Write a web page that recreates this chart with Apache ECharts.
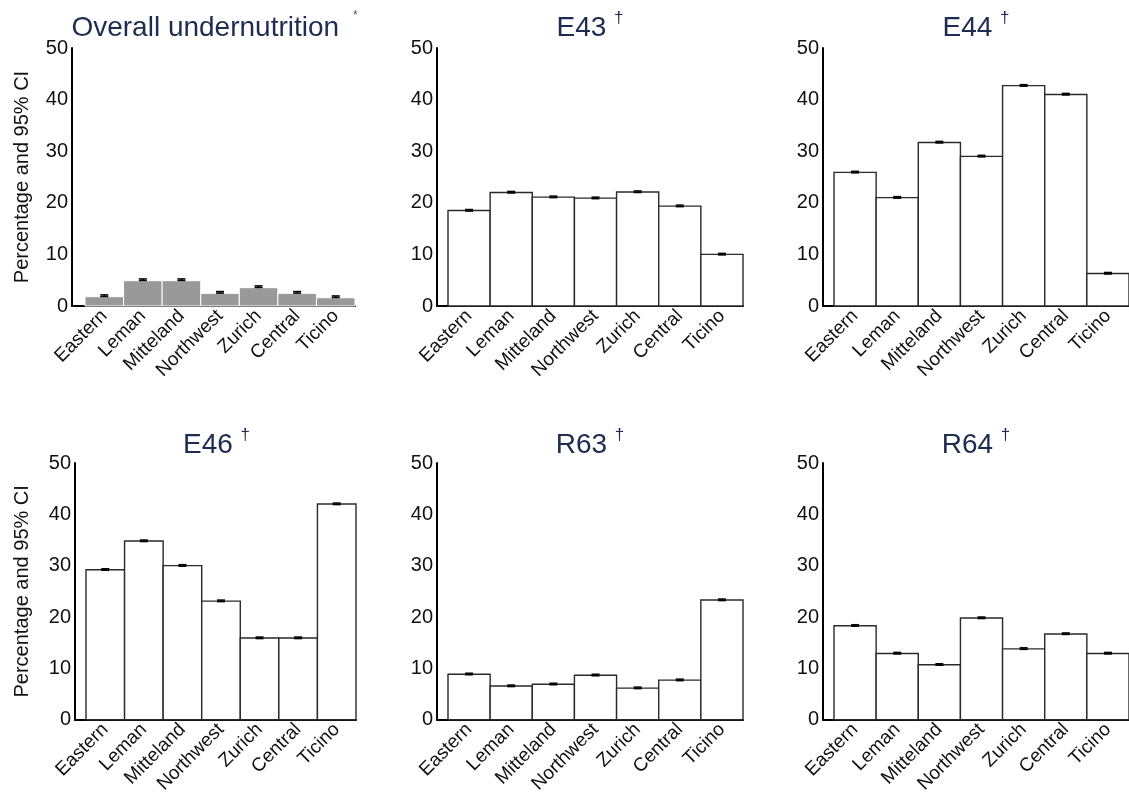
<!DOCTYPE html>
<html>
<head>
<meta charset="utf-8">
<script src="https://cdn.jsdelivr.net/npm/echarts@6/dist/echarts.min.js"></script>
<style>
html,body{margin:0;padding:0;background:#fff;}
#chart{width:1129px;height:796px;}
</style>
</head>
<body>
<div id="chart"></div>
<script>
// ---- data ----
const regions = ['Eastern', 'Leman', 'Mitteland', 'Northwest', 'Zurich', 'Central', 'Ticino'];

const panelTitles = ['Overall undernutrition', 'E43', 'E44', 'E46', 'R63', 'R64'];
const panelMarks = ['*', '†', '†', '†', '†', '†'];

const overallPct  = [1.8, 4.9, 4.9, 2.45, 3.55, 2.45, 1.6];
const overallLow  = [1.85, 4.95, 4.95, 2.5, 3.6, 2.5, 1.65];
const overallHigh = [2.15, 5.25, 5.25, 2.8, 3.9, 2.8, 1.95];

const e43Pct  = [18.5, 22.0, 21.1, 20.9, 22.1, 19.35, 10.0];
const e43Low  = [18.4, 21.9, 21.0, 20.8, 22.0, 19.25, 9.9];
const e43High = [18.7, 22.2, 21.3, 21.1, 22.3, 19.55, 10.2];

const e44Pct  = [25.9, 21.0, 31.7, 29.0, 42.7, 41.0, 6.3];
const e44Low  = [25.8, 20.9, 31.6, 28.9, 42.6, 40.9, 6.2];
const e44High = [26.1, 21.2, 31.9, 29.2, 42.9, 41.2, 6.5];

const e46Pct  = [29.2, 34.8, 30.0, 23.1, 15.9, 15.9, 42.0];
const e46Low  = [29.1, 34.7, 29.9, 23.0, 15.8, 15.8, 41.9];
const e46High = [29.4, 35.0, 30.2, 23.3, 16.1, 16.1, 42.2];

const r63Pct  = [8.85, 6.55, 6.9, 8.65, 6.15, 7.7, 23.3];
const r63Low  = [8.75, 6.45, 6.8, 8.55, 6.05, 7.6, 23.2];
const r63High = [9.05, 6.75, 7.1, 8.85, 6.35, 7.9, 23.5];

const r64Pct  = [18.3, 12.9, 10.7, 19.8, 13.8, 16.7, 12.9];
const r64Low  = [18.2, 12.8, 10.6, 19.7, 13.7, 16.6, 12.8];
const r64High = [18.5, 13.1, 10.9, 20.0, 14.0, 16.9, 13.1];

const yAxisName = 'Percentage and 95% CI';

// ---- layout ----
const pct = [overallPct, e43Pct, e44Pct, e46Pct, r63Pct, r64Pct];
const low = [overallLow, e43Low, e44Low, e46Low, r63Low, r64Low];
const high = [overallHigh, e43High, e44High, e46High, r63High, r64High];

const layout = [
  {left: 72,  width: 283, top: 48,  height: 258, xMin: -0.837, nameGap: 40, titleTop: 5},
  {left: 437, width: 306, top: 48,  height: 258, xMin: -0.761, titleTop: 5},
  {left: 823, width: 306, top: 48,  height: 258, xMin: -0.761, titleTop: 5},
  {left: 75,  width: 281, top: 463, height: 260, xMin: -0.785, nameGap: 43, titleTop: 422},
  {left: 437, width: 306, top: 463, height: 260, xMin: -0.761, titleTop: 422},
  {left: 823, width: 306, top: 463, height: 260, xMin: -0.761, titleTop: 422}
];

const FONT = "'Liberation Sans', Arial, sans-serif";
const TITLE_COLOR = '#1d2c50';

const grids = [], xAxes = [], yAxes = [], series = [], titles = [];

layout.forEach((L, k) => {
  grids.push({left: L.left, top: L.top, width: L.width, height: L.height, containLabel: false});
  xAxes.push({
    type: 'value', gridIndex: k, min: L.xMin, max: 6.5,
    axisLine: {show: true, onZero: false, lineStyle: {color: '#000', width: 2}},
    axisTick: {show: false},
    splitLine: {show: false},
    axisLabel: {
      customValues: regions.map((r, i) => i),
      rotate: 45, margin: 7, fontSize: 19, color: '#111', fontFamily: FONT,
      formatter: v => regions[Math.round(v)] || ''
    }
  });
  yAxes.push({
    type: 'value', gridIndex: k, min: 0, max: 50, interval: 10,
    name: L.nameGap ? yAxisName : '',
    nameLocation: 'middle', nameGap: L.nameGap || 0,
    nameTextStyle: {fontSize: 20, color: '#111', fontFamily: FONT},
    axisLine: {show: true, onZero: false, lineStyle: {color: '#000', width: 2}},
    axisTick: {show: false},
    splitLine: {show: false},
    axisLabel: {fontSize: 20, color: '#111', margin: 4, fontFamily: FONT}
  });
  const isGray = k === 0;
  series.push({
    type: 'custom', xAxisIndex: k, yAxisIndex: k, z: 2,
    data: pct[k].map((v, i) => [i, v]),
    renderItem: (params, api) => {
      const i = api.value(0), v = api.value(1);
      const p0 = api.coord([i - 0.5, v]);
      const p1 = api.coord([i + 0.5, 0]);
      return {
        type: 'rect',
        shape: {x: p0[0], y: p0[1], width: p1[0] - p0[0], height: p1[1] - p0[1]},
        style: isGray ? {fill: '#999999', stroke: '#ffffff', lineWidth: 1}
                      : {fill: '#ffffff', stroke: '#2a2a2a', lineWidth: 1.4}
      };
    }
  });
  series.push({
    type: 'custom', xAxisIndex: k, yAxisIndex: k, z: 3,
    data: pct[k].map((v, i) => [i, low[k][i], high[k][i]]),
    renderItem: (params, api) => {
      const i = api.value(0);
      const a = api.coord([i, api.value(1)]);
      const b = api.coord([i, api.value(2)]);
      const hw = 4;
      const st = {stroke: '#000', lineWidth: 1.5};
      return {
        type: 'group',
        children: [
          {type: 'line', shape: {x1: a[0], y1: a[1], x2: b[0], y2: b[1]}, style: st},
          {type: 'line', shape: {x1: a[0] - hw, y1: a[1], x2: a[0] + hw, y2: a[1]}, style: st},
          {type: 'line', shape: {x1: b[0] - hw, y1: b[1], x2: b[0] + hw, y2: b[1]}, style: st}
        ]
      };
    }
  });
  const isStar = panelMarks[k] === '*';
  titles.push({
    text: '{t|' + panelTitles[k] + ' }{s|' + panelMarks[k] + '}',
    left: L.left + (L.width + (k % 3 === 0 ? 2 : 0)) / 2 - 5,
    top: L.titleTop,
    textAlign: 'center',
    textStyle: {
      fontWeight: 'normal',
      rich: {
        t: {fontSize: 28, fontWeight: 'normal', color: TITLE_COLOR, fontFamily: FONT, lineHeight: 32, verticalAlign: 'bottom'},
        s: isStar
          ? {fontSize: 12, fontWeight: 'normal', color: '#555', fontFamily: FONT, lineHeight: 12, padding: [0, 0, 26, 6], verticalAlign: 'top'}
          : {fontSize: 17, fontWeight: 'normal', color: TITLE_COLOR, fontFamily: FONT, lineHeight: 17, padding: [0, 0, 25, 0], verticalAlign: 'top'}
      }
    }
  });
});

const chart = echarts.init(document.getElementById('chart'), null, {renderer: 'canvas'});
chart.setOption({
  animation: false,
  backgroundColor: '#ffffff',
  title: titles,
  grid: grids,
  xAxis: xAxes,
  yAxis: yAxes,
  series: series
});
</script>
</body>
</html>
